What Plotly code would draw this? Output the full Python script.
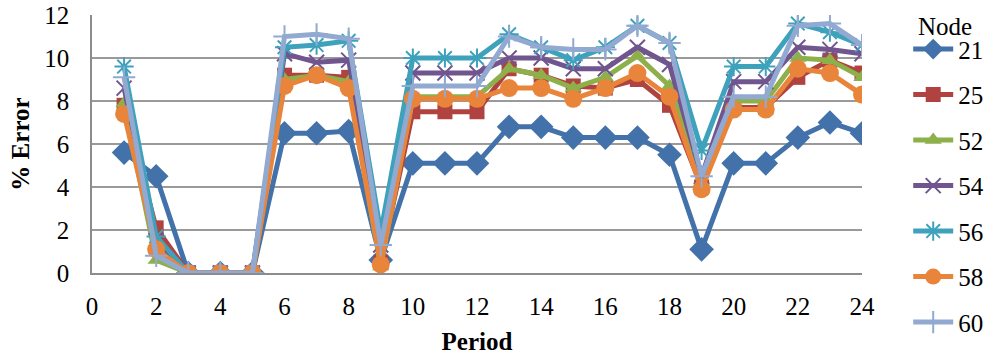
import plotly.graph_objects as go

periods = list(range(1, 25))

node_21 = [5.6, 4.5, 0, 0, 0, 6.5, 6.5, 6.6, 0.6, 5.1, 5.1, 5.1, 6.8, 6.8, 6.3, 6.3, 6.3, 5.5, 1.1, 5.1, 5.1, 6.3, 7.0, 6.5]
node_25 = [7.8, 2.1, 0, 0, 0, 9.2, 9.2, 9.1, 0.5, 7.5, 7.5, 7.5, 9.5, 9.2, 8.7, 8.6, 9.0, 7.8, 4.0, 7.7, 7.7, 9.1, 9.9, 9.3]
node_52 = [7.9, 0.6, 0, 0, 0, 9.0, 9.2, 8.9, 0.3, 8.2, 8.2, 8.2, 9.5, 9.2, 8.6, 9.1, 10.1, 8.7, 4.3, 8.0, 8.0, 10.0, 9.9, 9.1]
node_54 = [8.6, 1.5, 0, 0, 0, 10.2, 9.8, 9.9, 1.3, 9.3, 9.3, 9.3, 10.0, 10.0, 9.5, 9.5, 10.5, 9.7, 4.5, 8.9, 8.9, 10.5, 10.4, 10.2]
node_56 = [9.6, 1.7, 0, 0, 0, 10.5, 10.6, 10.8, 1.9, 10.0, 10.0, 10.0, 11.1, 10.5, 9.9, 10.5, 11.5, 10.7, 5.7, 9.6, 9.6, 11.6, 11.2, 10.6]
node_58 = [7.4, 1.1, 0, 0, 0, 8.7, 9.2, 8.6, 0.4, 8.1, 8.1, 8.1, 8.6, 8.6, 8.1, 8.6, 9.3, 8.2, 3.9, 7.6, 7.6, 9.5, 9.3, 8.3]
node_60 = [9.1, 0.8, 0, 0, 0, 11.0, 11.1, 10.9, 1.3, 8.7, 8.7, 8.7, 11.0, 10.5, 10.4, 10.4, 11.5, 10.7, 4.5, 8.2, 8.2, 11.5, 11.6, 10.6]

x_ticks = list(range(0, 25, 2))
y_ticks = list(range(0, 13, 2))

series = [
    ("21", node_21, "#4372AA", "diamond", 19, False),
    ("25", node_25, "#B0423F", "square", 15, False),
    ("52", node_52, "#8DB04B", "triangle-up", 15, False),
    ("54", node_54, "#71558F", "x-thin", 15, True),
    ("56", node_56, "#3EA2BC", "asterisk", 16, True),
    ("58", node_58, "#E8853A", "circle", 18, False),
    ("60", node_60, "#92A9D1", "cross-thin", 16, True),
]

fig = go.Figure()
for name, vals, color, symbol, size, open_marker in series:
    marker = dict(symbol=symbol, size=size, color=color)
    if open_marker:
        marker["line"] = dict(color=color, width=2)
    else:
        marker["line"] = dict(width=0)
    fig.add_trace(go.Scatter(
        x=periods, y=vals, name=name, mode="lines+markers",
        line=dict(color=color, width=5),
        marker=marker,
        legendgroup=name,
    ))

font_family = "Liberation Serif, Times New Roman, serif"

# legend heading drawn as a separate label above the entries
fig.add_annotation(
    text="Node", xref="paper", yref="paper",
    x=1.07, y=1.0, xanchor="left", yanchor="middle",
    yshift=-11, showarrow=False, font=dict(size=25),
)

fig.update_layout(
    width=1007, height=360,
    margin=dict(l=92, r=145, t=15, b=87, autoexpand=False),
    paper_bgcolor="white", plot_bgcolor="white",
    font=dict(family=font_family, size=25, color="black"),
    showlegend=True,
    legend=dict(
        x=1.06, xanchor="left", xref="paper",
        y=0.956, yanchor="top",
        font=dict(size=25),
        tracegroupgap=10,
        itemwidth=40,
        maxheight=360,
        bgcolor="rgba(0,0,0,0)",
    ),
    xaxis=dict(
        range=[0, 24], tickmode="array", tickvals=x_ticks,
        ticktext=[str(t) for t in x_ticks],
        showgrid=False, zeroline=False, automargin=False,
        showline=True, linecolor="#8c8c8c", linewidth=1.5,
        ticks="", ticklabelstandoff=10,
        title=dict(text="<b>Period</b>", font=dict(size=25), standoff=14),
    ),
    yaxis=dict(
        range=[0, 12], tickmode="array", tickvals=y_ticks,
        ticktext=[str(t) for t in y_ticks],
        showgrid=True, gridcolor="#9a9a9a", gridwidth=1.5,
        zeroline=False, automargin=False,
        showline=True, linecolor="#8c8c8c", linewidth=1.5,
        ticks="", ticklabelstandoff=16,
        title=dict(text="<b>% Error</b>", font=dict(size=25), standoff=8),
    ),
)

fig.write_html("out.html")
